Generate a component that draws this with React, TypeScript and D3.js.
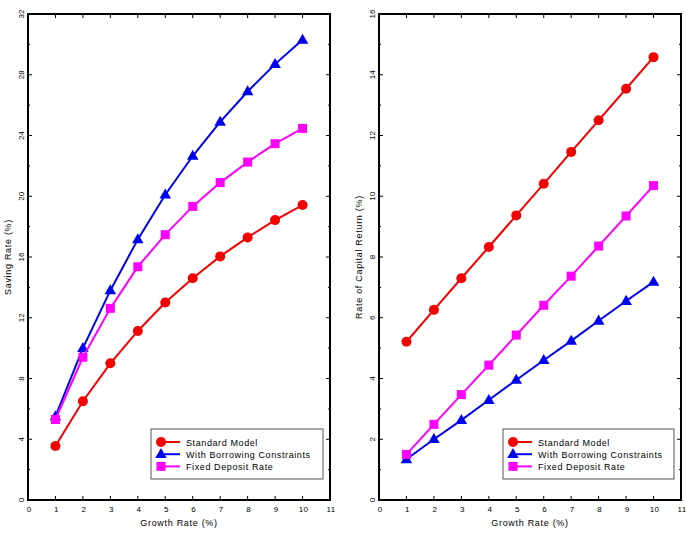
import React from "react";
import * as d3 from "d3";

const growth = [1, 2, 3, 4, 5, 6, 7, 8, 9, 10];

const savingStandard = [3.55, 6.5, 9.0, 11.13, 13.0, 14.6, 16.04, 17.29, 18.43, 19.42];
const savingBorrowing = [5.5, 10.0, 13.8, 17.16, 20.1, 22.65, 24.9, 26.9, 28.7, 30.3];
const savingFixed = [5.3, 9.4, 12.62, 15.36, 17.47, 19.33, 20.9, 22.25, 23.46, 24.47];

const returnStandard = [5.21, 6.26, 7.3, 8.33, 9.37, 10.41, 11.46, 12.5, 13.54, 14.58];
const returnBorrowing = [1.34, 2.0, 2.63, 3.29, 3.95, 4.6, 5.24, 5.9, 6.55, 7.18];
const returnFixed = [1.5, 2.49, 3.47, 4.44, 5.43, 6.41, 7.37, 8.36, 9.35, 10.35];

const seriesNames = ["Standard Model", "With Borrowing Constraints", "Fixed Deposit Rate"];
const seriesColors = ["#f50000", "#0000f0", "#ff00ff"];
const seriesShapes = ["circle", "triangle", "square"];

const xTicks = d3.range(0, 12);
const savingTicks = [0, 4, 8, 12, 16, 20, 24, 28, 32];
const returnTicks = [0, 2, 4, 6, 8, 10, 12, 14, 16];

const FONT = "'Liberation Sans', Arial, sans-serif";

function Marker({ shape, x, y, color }: { shape: string; x: number; y: number; color: string }) {
  if (shape === "circle") return <circle cx={x} cy={y} r={5} fill={color} />;
  if (shape === "triangle") {
    const sym = d3.symbol(d3.symbolTriangle, 58)();
    return <path d={sym || ""} transform={`translate(${x},${y + 0.5})`} fill={color} />;
  }
  return <rect x={x - 4.5} y={y - 4.5} width={9} height={9} fill={color} />;
}

interface PanelProps {
  left: number;
  right: number;
  yMax: number;
  yTicks: number[];
  yTitle: string;
  series: number[][];
  legendX: number;
  legendW: number;
}

function Panel({ left, right, yMax, yTicks, yTitle, series, legendX, legendW }: PanelProps) {
  const top = 14;
  const bottom = 500;
  const x = d3.scaleLinear().domain([0, 11]).range([left, right]);
  const y = d3.scaleLinear().domain([0, yMax]).range([bottom, top]);
  const step = yTicks[1] - yTicks[0];
  const minorY = yTicks.slice(0, -1).map((t) => t + step / 2);
  const line = d3
    .line<number>()
    .x((_, i) => x(growth[i]))
    .y((d) => y(d));

  const legTop = 429;
  const legH = 50;

  return (
    <g>
      {/* data lines */}
      {series.map((s, si) => (
        <g key={si}>
          <path d={line(s) || ""} fill="none" stroke={seriesColors[si]} strokeWidth={2} />
          {s.map((v, i) => (
            <Marker key={i} shape={seriesShapes[si]} x={x(growth[i])} y={y(v)} color={seriesColors[si]} />
          ))}
        </g>
      ))}

      {/* ticks */}
      {xTicks.slice(1, -1).map((t) => (
        <g key={"xt" + t}>
          <line x1={x(t)} x2={x(t)} y1={bottom} y2={bottom - 4} stroke="#000" strokeWidth={1} />
          <line x1={x(t)} x2={x(t)} y1={top} y2={top + 4} stroke="#000" strokeWidth={1} />
        </g>
      ))}
      {yTicks.slice(1, -1).map((t) => (
        <g key={"yt" + t}>
          <line x1={left} x2={left + 4} y1={y(t)} y2={y(t)} stroke="#000" strokeWidth={1} />
          <line x1={right} x2={right - 4} y1={y(t)} y2={y(t)} stroke="#000" strokeWidth={1} />
        </g>
      ))}
      {minorY.map((t) => (
        <g key={"ym" + t}>
          <line x1={left} x2={left + 2} y1={y(t)} y2={y(t)} stroke="#000" strokeWidth={1} />
          <line x1={right} x2={right - 2} y1={y(t)} y2={y(t)} stroke="#000" strokeWidth={1} />
        </g>
      ))}

      {/* frame */}
      <rect x={left} y={top} width={right - left} height={bottom - top} fill="none" stroke="#000" strokeWidth={2} />

      {/* tick labels */}
      {xTicks.map((t) => (
        <text key={"xl" + t} x={x(t) + 1} y={512} textAnchor="middle" fontSize={8} fontFamily={FONT} letterSpacing={0.3}>
          {t}
        </text>
      ))}
      {yTicks.map((t) => (
        <text
          key={"yl" + t}
          transform={`translate(${left - 4},${y(t)}) rotate(-90)`}
          textAnchor="middle"
          fontSize={8}
          fontFamily={FONT}
        >
          {t}
        </text>
      ))}

      {/* axis titles */}
      <text x={(left + right) / 2} y={526} textAnchor="middle" fontSize={9} fontFamily={FONT} letterSpacing={0.7}>
        Growth Rate (%)
      </text>
      <text
        transform={`translate(${left - 17},${(top + bottom) / 2}) rotate(-90)`}
        textAnchor="middle"
        fontSize={9}
        fontFamily={FONT}
        letterSpacing={0.7}
      >
        {yTitle}
      </text>

      {/* legend */}
      <rect x={legendX} y={legTop} width={legendW} height={legH} fill="#fff" stroke="#555" strokeWidth={1} />
      {seriesNames.map((name, si) => {
        const ly = legTop + 13 + si * 12.2;
        return (
          <g key={"lg" + si}>
            <line x1={legendX + 10} x2={legendX + 29} y1={ly} y2={ly} stroke={seriesColors[si]} strokeWidth={2} />
            <Marker shape={seriesShapes[si]} x={legendX + 10} y={ly} color={seriesColors[si]} />
            <text x={legendX + 35} y={ly + 3.5} fontSize={9} fontFamily={FONT} letterSpacing={0.6}>
              {name}
            </text>
          </g>
        );
      })}
    </g>
  );
}

export default function App() {
  return (
    <svg
      width={686}
      height={540}
      style={{ position: "absolute", left: 0, top: 0, background: "#fff" }}
    >
      <rect width={686} height={540} fill="#fff" />
      <Panel
        left={28}
        right={330}
        yMax={32}
        yTicks={savingTicks}
        yTitle="Saving Rate (%)"
        series={[savingStandard, savingBorrowing, savingFixed]}
        legendX={151}
        legendW={172}
      />
      <Panel
        left={379}
        right={681}
        yMax={16}
        yTicks={returnTicks}
        yTitle="Rate of Capital Return (%)"
        series={[returnStandard, returnBorrowing, returnFixed]}
        legendX={503}
        legendW={171}
      />
    </svg>
  );
}
